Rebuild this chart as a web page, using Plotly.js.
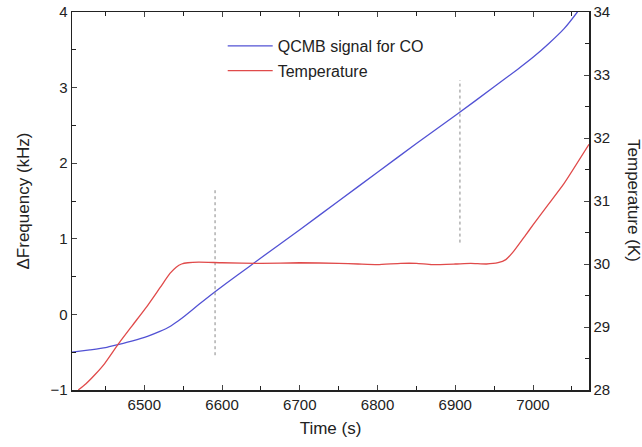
<!DOCTYPE html>
<html>
<head>
<meta charset="utf-8">
<script src="https://cdn.plot.ly/plotly-3.0.1.min.js"></script>
<style>html,body{margin:0;padding:0;background:#fff;}#chart{width:642px;height:447px;}</style>
</head>
<body>
<div id="chart"></div>
<script>
// QCMB signal (left axis, kHz)
const qcmbTime = [6407, 6430, 6450, 6466, 6485, 6504, 6520, 6533, 6543, 6552, 6570, 6591, 6620, 6649, 6700, 6750, 6800, 6850, 6900, 6950, 6980, 7000, 7020, 7040, 7057, 7072];
const qcmbFreq = [-0.50, -0.47, -0.44, -0.40, -0.35, -0.29, -0.225, -0.16, -0.09, -0.02, 0.13, 0.30, 0.52, 0.74, 1.12, 1.50, 1.88, 2.26, 2.63, 3.01, 3.24, 3.40, 3.58, 3.78, 4.00, 4.22];

// Temperature (right axis, K)
const tempTime = [6415, 6425, 6437, 6449, 6466, 6485, 6503, 6520, 6533, 6541, 6548, 6556, 6570, 6600, 6650, 6700, 6750, 6775, 6800, 6830, 6850, 6870, 6900, 6920, 6940, 6955, 6965, 6975, 6990, 7000, 7020, 7040, 7072];
const tempK = [28.00, 28.10, 28.25, 28.42, 28.72, 29.03, 29.32, 29.62, 29.85, 29.95, 30.00, 30.02, 30.03, 30.02, 30.01, 30.02, 30.01, 30.00, 29.99, 30.01, 30.01, 29.99, 30.00, 30.01, 30.00, 30.02, 30.07, 30.20, 30.45, 30.62, 30.95, 31.28, 31.90];

// Dotted guide lines (left-axis units)
const guideTimes = [6591, 6906];
const guideLow = [-0.54, 0.95];
const guideHigh = [1.65, 3.10];

const traces = [
  {x: qcmbTime, y: qcmbFreq, type: 'scatter', mode: 'lines', name: 'QCMB signal for CO', legendgroup: 'a',
   line: {color: '#5252d4', width: 1.3, shape: 'spline', smoothing: 0.5}, yaxis: 'y'},
  {x: tempTime, y: tempK, type: 'scatter', mode: 'lines', name: 'Temperature', legendgroup: 'b',
   line: {color: '#e04a4a', width: 1.3, shape: 'spline', smoothing: 0.5}, yaxis: 'y2'}
];
guideTimes.forEach((t, i) => {
  traces.push({x: [t, t], y: [guideLow[i], guideHigh[i]], type: 'scatter', mode: 'lines',
    showlegend: false, hoverinfo: 'skip', line: {color: '#888888', width: 1, dash: 'dot'}, yaxis: 'y'});
});

const fontFam = 'Liberation Sans, Arial, sans-serif';
const layout = {
  width: 642, height: 447,
  margin: {l: 72, r: 53, t: 12, b: 57},
  paper_bgcolor: '#fff', plot_bgcolor: '#fff',
  font: {family: fontFam, size: 14, color: '#222'},
  showlegend: true,
  legend: {x: 0.2915, y: 0.955, xanchor: 'left', yanchor: 'top', bgcolor: 'rgba(0,0,0,0)',
    traceorder: 'grouped', tracegroupgap: 1, itemwidth: 45,
    font: {family: fontFam, size: 16, color: '#222'}},
  xaxis: {range: [6407, 7072], dtick: 100, tick0: 6500, ticks: 'inside', ticklen: 5, tickwidth: 1,
    showline: true, linecolor: '#222', linewidth: 1.5, mirror: 'ticks', showgrid: false, zeroline: false,
    minor: {dtick: 50, tick0: 6450, ticks: 'inside', ticklen: 4, tickcolor: '#222', showgrid: false},
    title: {text: 'Time (s)', font: {size: 17, family: fontFam}, standoff: 10},
    tickfont: {size: 15, family: fontFam}},
  yaxis: {range: [-1, 4], dtick: 1, ticks: 'inside', ticklen: 5, tickwidth: 1,
    showline: true, linecolor: '#222', linewidth: 1.5, showgrid: false, zeroline: false,
    minor: {dtick: 0.5, ticks: 'inside', ticklen: 4, tickcolor: '#222', showgrid: false},
    title: {text: 'ΔFrequency (kHz)', font: {size: 17, family: fontFam}, standoff: 16},
    tickfont: {size: 15, family: fontFam}},
  yaxis2: {range: [28, 34], dtick: 1, overlaying: 'y', side: 'right', ticks: 'inside', ticklen: 5, tickwidth: 1,
    showline: true, linecolor: '#222', linewidth: 1.5, showgrid: false, zeroline: false,
    minor: {dtick: 0.5, ticks: 'inside', ticklen: 4, tickcolor: '#222', showgrid: false},
    tickfont: {size: 15, family: fontFam}},
  annotations: [{text: 'Temperature (K)', xref: 'paper', yref: 'paper', x: 1.087, y: 0.5,
    xanchor: 'center', yanchor: 'middle', textangle: 90, showarrow: false,
    font: {size: 17, family: fontFam, color: '#222'}}]
};

Plotly.newPlot('chart', traces, layout, {displayModeBar: false, staticPlot: true});
</script>
</body>
</html>
